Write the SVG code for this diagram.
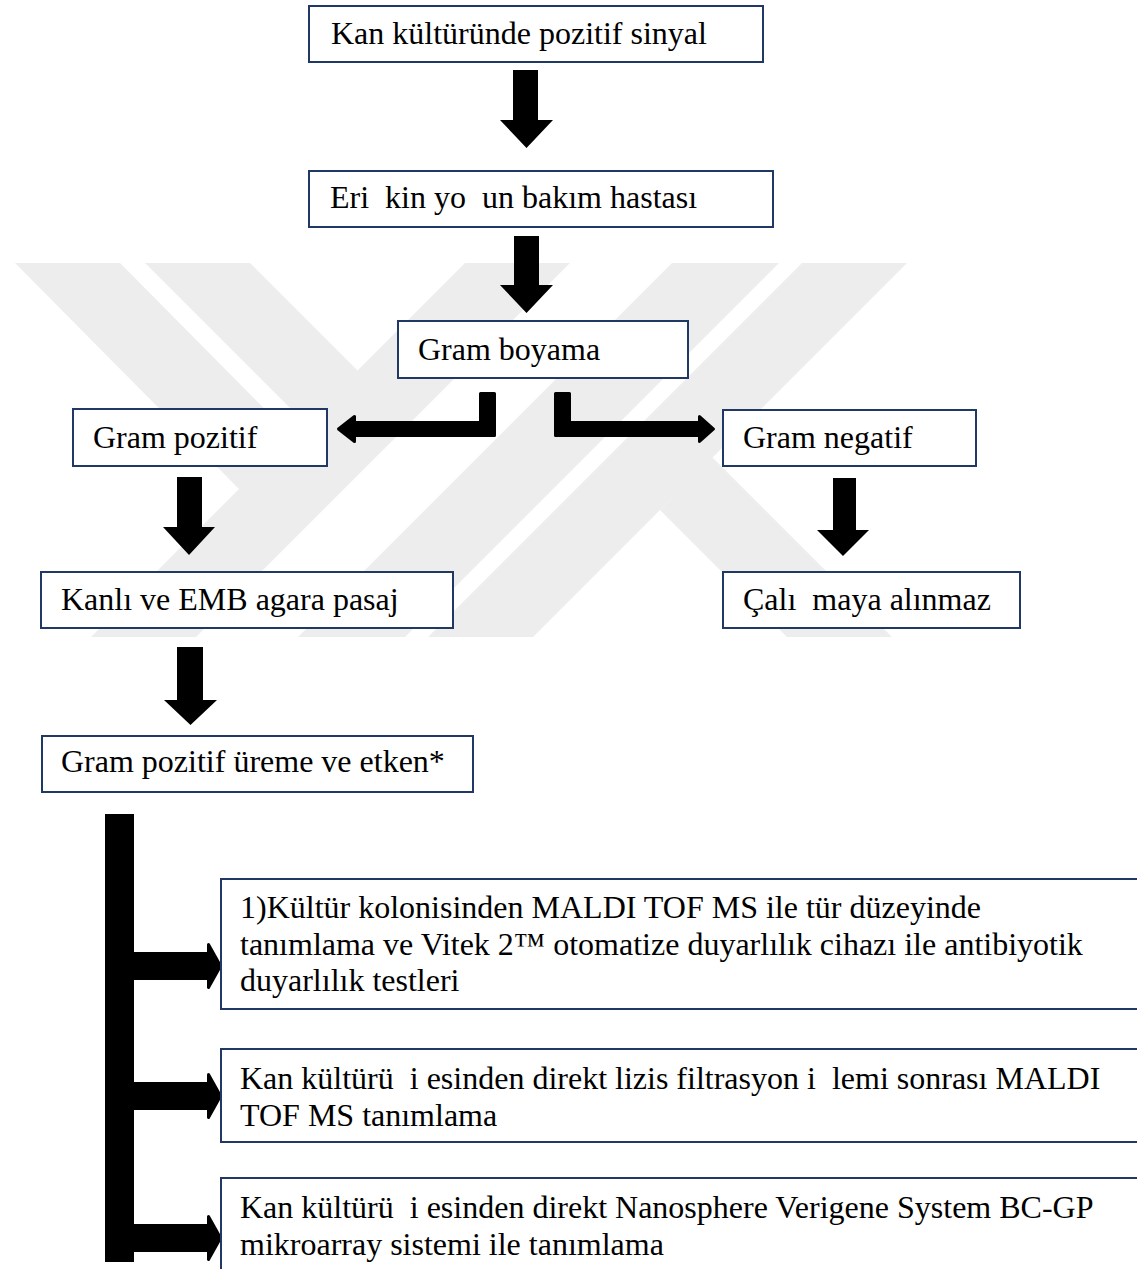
<svg xmlns="http://www.w3.org/2000/svg" width="1137" height="1269" viewBox="0 0 1137 1269">
<style>
.wm{fill:#ededed}
.box{fill:#ffffff;stroke:#1f3864;stroke-width:2}
.t{font-family:"Liberation Serif","Times New Roman",serif;font-size:32px;fill:#000}
.arr{fill:#000}
.bent{fill:#000;stroke:#000;stroke-width:3;stroke-linejoin:round}
</style>
<rect x="0" y="0" width="1137" height="1269" fill="#ffffff"/>
<g id="watermark">
<polygon class="wm" points="15,263 120,263 344,489 239,489"/>
<polygon class="wm" points="145,263 250,263 410,423 357,475"/>
<polygon class="wm" points="465,263 570,263 196,637 91,637"/>
<polygon class="wm" points="672,263 779,263 405,637 298,637"/>
<polygon class="wm" points="802,263 907,263 533,637 428,637"/>
<polygon class="wm" points="660,510 712,457 892,637 787,637"/>
</g>
<g id="connectors">
<polygon class="arr" points="513,70 538,70 538,120 553,120 526.5,148 500,120 513,120"/>
<polygon class="arr" points="514,236 539,236 539,285 553,285 526.5,313 500,285 514,285"/>
<path class="bent" d="M480.5,393.5 L494.5,393.5 L494.5,435.5 L354.5,435.5 L354.5,441.5 L338.5,429 L354.5,416.5 L354.5,422.5 L480.5,422.5 Z"/>
<path class="bent" d="M555.5,393.5 L569.5,393.5 L569.5,422.5 L699.5,422.5 L699.5,416.5 L713.5,429 L699.5,441.5 L699.5,435.5 L555.5,435.5 Z"/>
<polygon class="arr" points="177,477 202,477 202,527 215,527 189,555 163,527 177,527"/>
<polygon class="arr" points="833,478 856,478 856,530 869,530 843,556 817,530 833,530"/>
<polygon class="arr" points="177,647 203,647 203,700 217,700 190.5,725 164,700 177,700"/>
<rect class="arr" x="105" y="814" width="29" height="448"/>
<path class="bent" d="M133,953.5 L208.5,953.5 L208.5,944.5 L220.5,966 L208.5,987.5 L208.5,978.5 L133,978.5 Z"/>
<path class="bent" d="M133,1083.5 L208.5,1083.5 L208.5,1074.5 L220.5,1096 L208.5,1117.5 L208.5,1108.5 L133,1108.5 Z"/>
<path class="bent" d="M133,1225.5 L208.5,1225.5 L208.5,1216.5 L220.5,1238 L208.5,1259.5 L208.5,1250.5 L133,1250.5 Z"/>
</g>
<g id="n1"><rect class="box" x="309" y="6" width="454" height="56"/><text class="t" x="331" y="44">Kan kültüründe pozitif sinyal</text></g>
<g id="n2"><rect class="box" x="309" y="171" width="464" height="56"/><text class="t" x="330" y="208" xml:space="preserve">Eri  kin yo  un bakım hastası</text></g>
<g id="n3"><rect class="box" x="398" y="321" width="290" height="57"/><text class="t" x="418" y="360">Gram boyama</text></g>
<g id="n4"><rect class="box" x="73" y="409" width="254" height="57"/><text class="t" x="93" y="448">Gram pozitif</text></g>
<g id="n5"><rect class="box" x="723" y="410" width="253" height="56"/><text class="t" x="743" y="448">Gram negatif</text></g>
<g id="n6"><rect class="box" x="41" y="572" width="412" height="56"/><text class="t" x="61" y="610">Kanlı ve EMB agara pasaj</text></g>
<g id="n7"><rect class="box" x="723" y="572" width="297" height="56"/><text class="t" x="743" y="610" xml:space="preserve">Çalı  maya alınmaz</text></g>
<g id="n8"><rect class="box" x="42" y="736" width="431" height="56"/><text class="t" x="61" y="772">Gram pozitif üreme ve etken*</text></g>
<g id="n9"><rect class="box" x="221" y="879" width="940" height="130"/>
<text class="t" x="240" y="918">1)Kültür kolonisinden MALDI TOF MS ile tür düzeyinde</text>
<text class="t" x="240" y="955">tanımlama ve Vitek 2™ otomatize duyarlılık cihazı ile antibiyotik</text>
<text class="t" x="240" y="991">duyarlılık testleri</text></g>
<g id="n10"><rect class="box" x="221" y="1049" width="940" height="93"/>
<text class="t" x="240" y="1089" xml:space="preserve">Kan kültürü  i esinden direkt lizis filtrasyon i  lemi sonrası MALDI</text>
<text class="t" x="240" y="1126">TOF MS tanımlama</text></g>
<g id="n11"><rect class="box" x="221" y="1178" width="940" height="120"/>
<text class="t" x="240" y="1218" xml:space="preserve">Kan kültürü  i esinden direkt Nanosphere Verigene System BC-GP</text>
<text class="t" x="240" y="1255">mikroarray sistemi ile tanımlama</text></g>
</svg>
